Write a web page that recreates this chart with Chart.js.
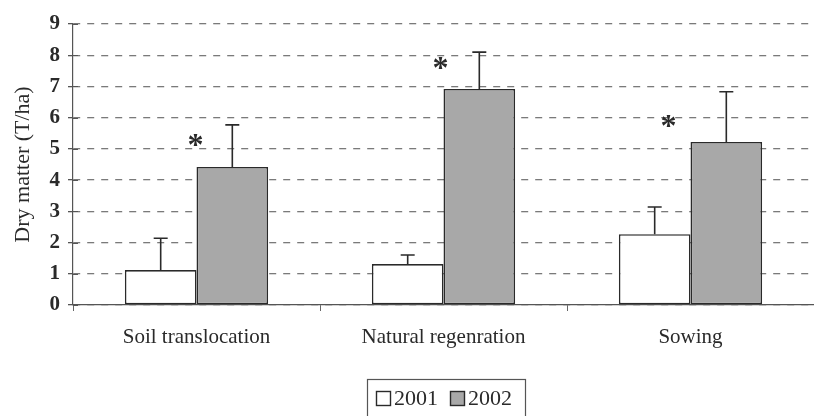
<!DOCTYPE html>
<html>
<head>
<meta charset="utf-8">
<script src="https://cdn.jsdelivr.net/npm/chart.js@4.4.1/dist/chart.umd.min.js"></script>
<style>
  html, body { margin: 0; padding: 0; background: #fff; }
  #wrap { width: 814px; height: 416px; }
</style>
</head>
<body>
<div id="wrap"><canvas id="dryMatter" width="814" height="416"></canvas></div>
<script>
// Dry matter per treatment, 2001 vs 2002, with upper error bars
const treatments = ['Soil translocation', 'Natural regenration', 'Sowing'];
const years = ['2001', '2002'];
const dm2001 = [1.12, 1.31, 2.27];
const dm2002 = [4.42, 6.92, 5.22];
const err2001 = [1.02, 0.29, 0.87];   // upper whisker length
const err2002 = [1.35, 1.18, 1.61];
const starLevel = [5.3, 7.75, 5.9];   // where the significance mark sits
const yTicks = [0, 1, 2, 3, 4, 5, 6, 7, 8, 9];

const serif = '"Liberation Serif", "Times New Roman", serif';
const ink = '#2a2a2a';

// error bars, asterisks, inner tick marks and the boxed legend
const extras = {
    id: 'extras',
    afterDatasetsDraw(chart) {
        const ctx = chart.ctx;
        const y = chart.scales.y;
        const errs = [err2001, err2002];
        ctx.save();
        ctx.strokeStyle = ink;
        ctx.lineWidth = 1.6;
        chart.data.datasets.forEach((ds, i) => {
            chart.getDatasetMeta(i).data.forEach((bar, j) => {
                const top = y.getPixelForValue(ds.data[j] + errs[i][j]);
                ctx.beginPath();
                ctx.moveTo(bar.x, bar.y);
                ctx.lineTo(bar.x, top);
                ctx.moveTo(bar.x - 7, top);
                ctx.lineTo(bar.x + 7, top);
                ctx.stroke();
            });
        });

        // significance asterisks near the boundary of each pair
        ctx.fillStyle = ink;
        ctx.font = 'bold 32px ' + serif;
        ctx.textAlign = 'center';
        ctx.textBaseline = 'middle';
        const x = chart.scales.x;
        const nudge = [-1, -3, -22];
        starLevel.forEach((v, j) => {
            ctx.fillText('*', x.getPixelForValue(j) + nudge[j], y.getPixelForValue(v) + 7);
        });

        // small tick marks inside the y axis
        ctx.lineWidth = 1;
        ctx.strokeStyle = '#555';
        yTicks.forEach(t => {
            const py = Math.round(y.getPixelForValue(t)) + 0.5;
            ctx.beginPath();
            ctx.moveTo(y.right, py);
            ctx.lineTo(y.right + 5, py);
            ctx.stroke();
        });
        ctx.restore();
    },
    afterDraw(chart) {
        const ctx = chart.ctx;
        ctx.save();
        ctx.strokeStyle = '#555';
        ctx.lineWidth = 1.2;
        ctx.strokeRect(367.5, 379.5, 158, 40);
        const fills = ['#ffffff', '#a8a8a8'];
        const xs = [376, 450];
        ctx.font = '22px ' + serif;
        ctx.textBaseline = 'middle';
        ctx.textAlign = 'left';
        years.forEach((yr, i) => {
            ctx.fillStyle = fills[i];
            ctx.fillRect(xs[i], 391, 14, 14);
            ctx.strokeStyle = ink;
            ctx.lineWidth = 1.4;
            ctx.strokeRect(xs[i] + 0.5, 391.5, 14, 14);
            ctx.fillStyle = ink;
            ctx.fillText(yr, xs[i] + 18, 399);
        });
        ctx.restore();
    }
};

new Chart(document.getElementById('dryMatter'), {
    type: 'bar',
    plugins: [extras],
    data: {
        labels: treatments,
        datasets: [
            {
                label: years[0],
                data: dm2001,
                backgroundColor: '#ffffff',
                borderColor: ink,
                borderWidth: 1.6,
                borderSkipped: false
            },
            {
                label: years[1],
                data: dm2002,
                backgroundColor: '#a8a8a8',
                borderColor: ink,
                borderWidth: 1.6,
                borderSkipped: false
            }
        ]
    },
    options: {
        responsive: false,
        animation: false,
        devicePixelRatio: 1,
        layout: { padding: { top: 24, right: 0, left: 0, bottom: 0 } },
        datasets: {
            bar: { categoryPercentage: 0.58, barPercentage: 1 }
        },
        plugins: {
            legend: { display: false },
            tooltip: { enabled: false }
        },
        scales: {
            x: {
                grid: {
                    offset: true,
                    drawOnChartArea: false,
                    color: '#666',
                    tickLength: 6
                },
                border: { color: '#555', width: 1.2 },
                ticks: {
                    color: ink,
                    font: { family: serif, size: 21 },
                    padding: 14
                },
                afterFit: s => { s.height = 111; }
            },
            y: {
                min: 0,
                max: 9,
                afterBuildTicks: s => { s.ticks = yTicks.map(v => ({ value: v })); },
                grid: {
                    color: '#7a7a7a',
                    lineWidth: 1.3,
                    tickLength: 5,
                    tickColor: '#555',
                    tickBorderDash: [],
                    drawTicks: true
                },
                border: { color: '#555', width: 1.2, dash: [7, 7] },
                ticks: {
                    color: ink,
                    font: { family: serif, size: 21, weight: 'bold' },
                    padding: 8
                },
                title: {
                    display: true,
                    text: 'Dry matter (T/ha)',
                    color: ink,
                    font: { family: serif, size: 22 },
                    padding: { top: 10, bottom: 0 }
                },
                afterFit: s => { s.width = 73; }
            }
        }
    }
});
</script>
</body>
</html>
